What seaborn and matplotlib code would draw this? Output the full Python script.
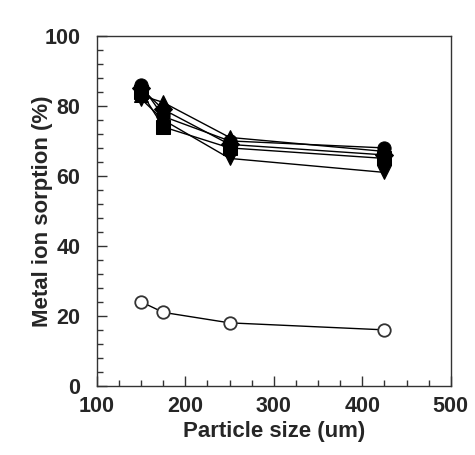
import matplotlib
matplotlib.use("Agg")
import matplotlib.pyplot as plt
import seaborn as sns
import pandas as pd
from matplotlib.ticker import MultipleLocator

particle_size = [150, 175, 250, 425]
s_square = [84, 74, 68, 65]
s_circle = [86, 77, 70, 68]
s_tri_up = [83, 81, 71, 67]
s_tri_down = [82, 76, 65, 61]
s_diamond = [85, 79, 69, 66]
s_open = [24, 21, 18, 16]

series = {
    "square": s_square,
    "circle": s_circle,
    "tri_up": s_tri_up,
    "tri_down": s_tri_down,
    "diamond": s_diamond,
    "open": s_open,
}
rows = []
for name, vals in series.items():
    for x, y in zip(particle_size, vals):
        rows.append({"size": x, "sorption": y, "series": name})
df = pd.DataFrame(rows)

sns.set_style("ticks")
plt.rcParams["font.family"] = ["Liberation Sans", "DejaVu Sans"]
plt.rcParams["font.weight"] = "bold"

fig = plt.figure(figsize=(4.75, 4.55), dpi=100)
ax = fig.add_axes([0.204, 0.152, 0.745, 0.769])

markers = {"square": "s", "circle": "o", "tri_up": "^", "tri_down": "v",
           "diamond": "D", "open": "o"}
filled = ["square", "circle", "tri_up", "tri_down", "diamond"]
sns.lineplot(data=df[df.series.isin(filled)], x="size", y="sorption",
             style="series", markers=markers, dashes=False, color="black",
             linewidth=1.0, markersize=9.5, markeredgecolor="black",
             legend=False, ax=ax)
sns.lineplot(data=df[df.series == "open"], x="size", y="sorption",
             marker="o", color="black", linewidth=1.0, markersize=9,
             markerfacecolor="white", markeredgecolor="#333333",
             markeredgewidth=1.3, legend=False, ax=ax)

ax.set_xlim(100, 500)
ax.set_ylim(0, 100)
ax.xaxis.set_major_locator(MultipleLocator(100))
ax.xaxis.set_minor_locator(MultipleLocator(25))
ax.yaxis.set_major_locator(MultipleLocator(20))
ax.yaxis.set_minor_locator(MultipleLocator(4))
ax.tick_params(which="both", direction="in", top=False, right=False,
               width=1.0, color="#333333")
ax.tick_params(which="major", length=7, labelsize=15.5)
ax.tick_params(axis="x", which="major", pad=7)
ax.tick_params(axis="y", which="major", pad=12)
ax.tick_params(which="minor", length=4)
for lab in ax.get_xticklabels() + ax.get_yticklabels():
    lab.set_fontweight("bold")
for sp in ax.spines.values():
    sp.set_linewidth(1.0)
    sp.set_color("#333333")
ax.set_xlabel("Particle size (um)", fontsize=16, fontweight="bold", labelpad=3)
ax.set_ylabel("Metal ion sorption (%)", fontsize=16, fontweight="bold", labelpad=-6)

fig.savefig("out.png", dpi=100)
